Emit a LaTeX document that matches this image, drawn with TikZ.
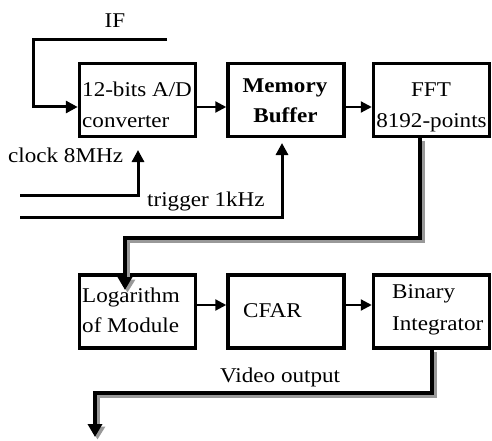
\documentclass[tikz,border=0pt]{standalone}
\usepackage{fontspec}
\setmainfont{Liberation Serif}[FakeStretch=1.1]
\usetikzlibrary{arrows.meta}
\begin{document}
\begin{tikzpicture}[x=1pt,y=-1pt,
  box/.style={draw, line width=3.5pt, minimum width=116pt, minimum height=73pt, inner sep=0pt},
  txt/.style={inner sep=0pt, font=\fontsize{21}{25}\selectfont},
  thinarrow/.style={line width=2.2pt, -{Triangle[length=11pt,width=11pt]}},
  sigarrow/.style={line width=3pt, -{Triangle[length=12pt,width=12pt]}},
  fatline/.style={line width=3.5pt, -{Triangle[length=13pt,width=14pt]}},
  fatshadow/.style={line width=5pt, gray!80, -{Triangle[length=13pt,width=15pt]}}
]
\useasboundingbox (0,0) rectangle (492,441);
% boxes
\node[box] (ad)  at (137.5,100) {};
\node[box] (mem) at (286,100) {};
\node[box] (fft) at (431.5,100) {};
\node[box] (log) at (137.5,311.5) {};
\node[box] (cfar) at (286,311.5) {};
\node[box] (bin) at (431.5,311.5) {};
% box texts
\node[txt, anchor=base west] (adt1) at (82,97) {12-bits A/D};
\node[txt, anchor=base west] (adt2) at (82,128) {converter};
\node[txt, anchor=base, font=\fontsize{21}{25}\selectfont\bfseries] (memt1) at (285,93) {Memory};
\node[txt, anchor=base, font=\fontsize{21}{25}\selectfont\bfseries] (memt2) at (285.5,122) {Buffer};
\node[txt, anchor=base] (fftt1) at (431,97) {FFT};
\node[txt, anchor=base] (fftt2) at (431.5,128) {8192-points};
\node[txt, anchor=base west] (logt1) at (82,302) {Logarithm};
\node[txt, anchor=base west] (logt2) at (82,332) {of Module};
\node[txt, anchor=base west] (cfart) at (243,317) {CFAR};
\node[txt, anchor=base west] (bint1) at (392,298) {Binary};
\node[txt, anchor=base west] (bint2) at (392,330) {Integrator};
% signal labels
\node[txt, anchor=base] (iflab) at (115,28) {IF};
\node[txt, anchor=base west] (clklab) at (8,162) {clock 8MHz};
\node[txt, anchor=base west] (trglab) at (147,206) {trigger 1kHz};
\node[txt, anchor=base west] (vidlab) at (220,382) {Video output};
% coordinates
\coordinate (ifs) at (167,40);
\coordinate (ifc) at (33,40);
\coordinate (ifd) at (33,107);
\coordinate (clks) at (20,195);
\coordinate (clkc) at (138,195);
\coordinate (clke) at (138,150);
\coordinate (trgs) at (20,217);
\coordinate (trgc) at (282,217);
\coordinate (trge) at (282,143);
\coordinate (f1) at (420,238);
\coordinate (f2) at (125,238);
\coordinate (f3) at (125,290);
\coordinate (v1) at (432,393);
\coordinate (v2) at (95,393);
\coordinate (v3) at (95,437);
% inputs
\draw[sigarrow] (ifs) -- (ifc) -- (ifd) -- (ifd -| ad.west);
\draw[sigarrow] (clks) -- (clkc) -- (clke);
\draw[sigarrow] (trgs) -- (trgc) -- (trge);
% row arrows
\draw[thinarrow] ([yshift=-7pt]ad.east) -- ([yshift=-7pt]mem.west);
\draw[thinarrow] ([yshift=-7pt]mem.east) -- ([yshift=-7pt]fft.west);
\draw[thinarrow] ([yshift=6.5pt]log.east) -- ([yshift=6.5pt]cfar.west);
\draw[thinarrow] ([yshift=6.5pt]cfar.east) -- ([yshift=6.5pt]bin.west);
% fat shadowed connectors
\begin{scope}[transform canvas={xshift=2.5pt,yshift=-2.5pt}]
\draw[fatshadow] (fft.south -| f1) -- (f1) -- (f2) -- (f3);
\draw[fatshadow] (bin.south -| v1) -- (v1) -- (v2) -- (v3);
\end{scope}
\draw[fatline] (fft.south -| f1) -- (f1) -- (f2) -- (f3);
\draw[fatline] (bin.south -| v1) -- (v1) -- (v2) -- (v3);
\end{tikzpicture}
\end{document}
